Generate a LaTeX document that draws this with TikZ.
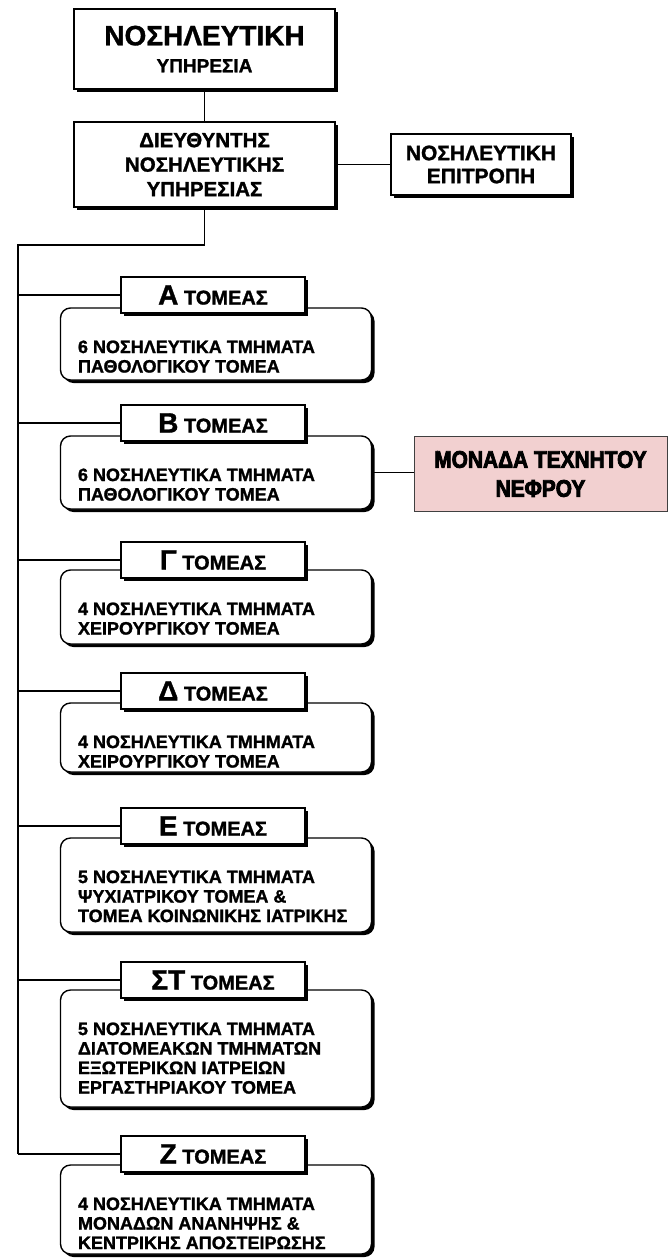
\documentclass[tikz,border=0pt]{standalone}
\usepackage{fontspec}
\setmainfont{Liberation Sans}[BoldFeatures={FakeBold=1.3}]
\newfontfamily\heavybold{Liberation Sans}[FakeStretch=0.87, BoldFeatures={FakeBold=3.5}]
\usetikzlibrary{shadows}

% one sector: id, letter, header top, body top, body bottom, body text
\newcommand\tomeas[6]{%
  \node[roundbox, minimum height={#5-#4-3}] (r#1) at (216,{(#4+#5-3)/2}) {};
  \node[bodytext, anchor=north west] (t#1) at ([shift={(18,33)}]r#1.north west) {#6};
  \node[headbox] (h#1) at (213,{#3+18}) {{\fontsize{28}{28}\selectfont #2} ΤΟΜΕΑΣ};
  \draw[link] (spine |- h#1.west) -- (h#1.west);
}

\begin{document}
\begin{tikzpicture}[x=1pt,y=-1pt,
  solidshadow/.style={general shadow={fill=black, shadow xshift=3pt, shadow yshift=-3pt}},
  box/.style={draw=black, line width=1.4pt, fill=white, solidshadow,
    inner sep=0pt, align=center, font=\bfseries},
  headbox/.style={box, minimum width=184pt, minimum height=36pt,
    font=\bfseries\fontsize{20}{20}\selectfont},
  roundbox/.style={draw=black, line width=1.4pt, fill=white, solidshadow,
    rounded corners=10pt, minimum width=311pt, inner sep=0pt},
  bodytext/.style={inner sep=0pt, align=left,
    font=\bfseries\fontsize{18}{19.5}\selectfont},
  link/.style={draw=black, line width=1.3pt},
  renal/.style={draw=black!75, line width=0.8pt, fill=renalpink,
    minimum width=253pt, minimum height=75pt, inner sep=0pt, align=center,
    font=\heavybold\bfseries\fontsize{24}{29}\selectfont}
]
\definecolor{renalpink}{HTML}{F2D0D0}
\useasboundingbox (0,0) rectangle (670,1259);

% top of the hierarchy
\node[box, minimum width=261pt, minimum height=80pt,
  font=\bfseries\fontsize{19}{27}\selectfont] (top) at (204.5,49)
  {{\fontsize{28}{28}\selectfont ΝΟΣΗΛΕΥΤΙΚΗ}\\ΥΠΗΡΕΣΙΑ};
\node[box, minimum width=261pt, minimum height=85pt,
  font=\bfseries\fontsize{20.5}{24.5}\selectfont] (dir) at (204.5,164.5)
  {ΔΙΕΥΘΥΝΤΗΣ\\ΝΟΣΗΛΕΥΤΙΚΗΣ\\ΥΠΗΡΕΣΙΑΣ};
\node[box, minimum width=180pt, minimum height=61pt,
  font=\bfseries\fontsize{21}{23}\selectfont] (comm) at (481,164.5)
  {ΝΟΣΗΛΕΥΤΙΚΗ\\ΕΠΙΤΡΟΠΗ};

\draw[link] (top.south) -- (dir.north);
\draw[link] (dir.east) -- (dir.east -| comm.west);

\coordinate (spine) at (18,245);

% sectors
\tomeas{A}{Α}{277}{308}{383}{6 ΝΟΣΗΛΕΥΤΙΚΑ ΤΜΗΜΑΤΑ\\ΠΑΘΟΛΟΓΙΚΟΥ ΤΟΜΕΑ}
\tomeas{B}{Β}{405}{436}{512}{6 ΝΟΣΗΛΕΥΤΙΚΑ ΤΜΗΜΑΤΑ\\ΠΑΘΟΛΟΓΙΚΟΥ ΤΟΜΕΑ}
\tomeas{C}{Γ}{542}{570}{647}{4 ΝΟΣΗΛΕΥΤΙΚΑ ΤΜΗΜΑΤΑ\\ΧΕΙΡΟΥΡΓΙΚΟΥ ΤΟΜΕΑ}
\tomeas{D}{Δ}{673}{703}{775}{4 ΝΟΣΗΛΕΥΤΙΚΑ ΤΜΗΜΑΤΑ\\ΧΕΙΡΟΥΡΓΙΚΟΥ ΤΟΜΕΑ}
\tomeas{E}{Ε}{808}{838}{935}{5 ΝΟΣΗΛΕΥΤΙΚΑ ΤΜΗΜΑΤΑ\\ΨΥΧΙΑΤΡΙΚΟΥ ΤΟΜΕΑ \&\\ΤΟΜΕΑ ΚΟΙΝΩΝΙΚΗΣ ΙΑΤΡΙΚΗΣ}
\tomeas{F}{ΣΤ}{962}{990}{1110}{5 ΝΟΣΗΛΕΥΤΙΚΑ ΤΜΗΜΑΤΑ\\ΔΙΑΤΟΜΕΑΚΩΝ ΤΜΗΜΑΤΩΝ\\ΕΞΩΤΕΡΙΚΩΝ ΙΑΤΡΕΙΩΝ\\ΕΡΓΑΣΤΗΡΙΑΚΟΥ ΤΟΜΕΑ}
\tomeas{G}{Ζ}{1136}{1165}{1257}{4 ΝΟΣΗΛΕΥΤΙΚΑ ΤΜΗΜΑΤΑ\\ΜΟΝΑΔΩΝ ΑΝΑΝΗΨΗΣ \&\\ΚΕΝΤΡΙΚΗΣ ΑΠΟΣΤΕΙΡΩΣΗΣ}

% spine from the director down to the last sector
\draw[link] (dir.south) |- (spine) -- (spine |- hG.west);

% artificial kidney unit attached to sector B
\node[renal] (renal) at (540.5,474) {ΜΟΝΑΔΑ ΤΕΧΝΗΤΟΥ\\ΝΕΦΡΟΥ};
\draw[link, line width=1pt] (rB.east) -- (rB.east -| renal.west);
\end{tikzpicture}
\end{document}
